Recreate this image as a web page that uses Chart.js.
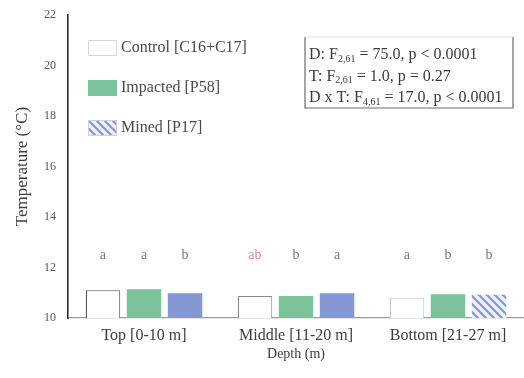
<!DOCTYPE html>
<html>
<head>
<meta charset="utf-8">
<script src="https://cdn.jsdelivr.net/npm/chart.js@4/dist/chart.umd.min.js"></script>
<style>
  html, body { margin: 0; padding: 0; background: #fff; }
  #wrap { width: 524px; height: 378px; }
</style>
</head>
<body>
<div id="wrap"><canvas id="c" width="524" height="378"></canvas></div>
<script>
// Depth zones and mean water temperature per treatment (°C)
const depthZones = ['Top [0-10 m]', 'Middle [11-20 m]', 'Bottom [21-27 m]'];
const seriesNames = ['Control [C16+C17]', 'Impacted [P58]', 'Mined [P17]'];
const controlTemp = [11.1, 10.87, 10.8];
const impactedTemp = [11.14, 10.87, 10.94];
const minedTemp = [10.98, 10.98, 10.92];
// Post-hoc grouping letters (per zone: control, impacted, mined)
const groupLetters = [['a', 'a', 'b'], ['ab', 'b', 'a'], ['a', 'b', 'b']];
const letterLevel = 12.5;
const yTicks = [10, 12, 14, 16, 18, 20, 22];
const statLines = [
  ['D: F', '2,61', ' = 75.0, p < 0.0001'],
  ['T: F', '2,61', ' = 1.0, p = 0.27'],
  ['D x T: F', '4,61', ' = 17.0, p < 0.0001']
];

const SERIF = '"Liberation Serif", "DejaVu Serif", serif';
const GREEN = 'rgb(124,194,154)';
const BLUE = 'rgb(132,150,212)';

function hatch(color, bg) {
  const c = document.createElement('canvas');
  c.width = 8; c.height = 8;
  const g = c.getContext('2d');
  g.fillStyle = bg; g.fillRect(0, 0, 8, 8);
  g.strokeStyle = color; g.lineWidth = 2.2;
  g.beginPath();
  g.moveTo(-2, -2); g.lineTo(10, 10);
  g.moveTo(-6, 2); g.lineTo(2, 10);
  g.moveTo(6, -2); g.lineTo(10, 2);
  g.stroke();
  return g.createPattern(c, 'repeat');
}
const ctxMain = document.getElementById('c').getContext('2d');
const minedHatch = hatch(BLUE, 'rgb(236,240,250)');

// Letters above each bar, legend and statistics box
const annotations = {
  id: 'annotations',
  afterDatasetsDraw(chart) {
    const g = chart.ctx;
    const y = chart.scales.y;
    g.save();
    g.font = '14px ' + SERIF;
    g.textAlign = 'center';
    g.textBaseline = 'middle';
    chart.data.datasets.forEach((ds, di) => {
      const meta = chart.getDatasetMeta(di);
      meta.data.forEach((bar, i) => {
        const t = groupLetters[i][di];
        g.fillStyle = (t === 'ab') ? '#d58a97' : '#7a7a7a';
        g.fillText(t, bar.x, y.getPixelForValue(letterLevel));
      });
    });

    // legend
    const swatches = [
      { fill: '#ffffff', stroke: '#d6d6d6' },
      { fill: GREEN, stroke: GREEN },
      { fill: minedHatch, stroke: 'rgb(200,208,236)' }
    ];
    const lx = 88, rows = [48, 88, 128];
    g.textAlign = 'left';
    g.font = '16px ' + SERIF;
    seriesNames.forEach((name, k) => {
      const sw = swatches[k];
      g.fillStyle = sw.fill;
      g.fillRect(lx, rows[k] - 8, 29, 16);
      g.strokeStyle = sw.stroke; g.lineWidth = 1;
      g.strokeRect(lx + 0.5, rows[k] - 7.5, 28, 15);
      g.fillStyle = '#4a4a4a';
      g.fillText(name, lx + 33, rows[k]);
    });

    // statistics box
    const bx = 305, by = 37, bw = 208, bh = 71;
    g.strokeStyle = '#6a6a6a'; g.lineWidth = 1.2;
    g.beginPath();
    g.moveTo(bx, by); g.lineTo(bx, by + bh); g.lineTo(bx + bw, by + bh); g.lineTo(bx + bw, by);
    g.stroke();
    g.strokeStyle = '#e2e2e2';
    g.beginPath(); g.moveTo(bx, by); g.lineTo(bx + bw, by); g.stroke();
    g.fillStyle = '#3a3a3a';
    statLines.forEach((ln, k) => {
      const ty = 55 + k * 21.5;
      let x = bx + 4;
      g.font = '16px ' + SERIF;
      g.fillText(ln[0], x, ty); x += g.measureText(ln[0]).width;
      g.font = '10px ' + SERIF;
      g.fillText(ln[1], x, ty + 4); x += g.measureText(ln[1]).width;
      g.font = '16px ' + SERIF;
      g.fillText(ln[2], x, ty);
    });
    g.restore();
  }
};

new Chart(ctxMain, {
  type: 'bar',
  data: {
    labels: depthZones,
    datasets: [
      { label: seriesNames[0], data: controlTemp, backgroundColor: '#ffffff',
        borderColor: ['#555555', '#8a8a8a', '#c8c8c8'],
        borderWidth: { left: 1.4, top: 1, right: 1, bottom: 0 }, borderSkipped: false },
      { label: seriesNames[1], data: impactedTemp, backgroundColor: GREEN, borderWidth: 0 },
      { label: seriesNames[2], data: minedTemp, backgroundColor: [BLUE, BLUE, minedHatch], borderWidth: 0 }
    ]
  },
  options: {
    responsive: false,
    animation: false,
    devicePixelRatio: 1,
    layout: { padding: { top: 11, right: 0, left: 0, bottom: 15 } },
    datasets: { bar: { categoryPercentage: 0.81, barPercentage: 0.84 } },
    plugins: { legend: { display: false }, tooltip: { enabled: false } },
    scales: {
      x: {
        grid: { display: false, drawTicks: false },
        border: { display: true, color: '#9a9a9a', width: 1.2 },
        ticks: { color: '#3c3c3c', font: { family: SERIF, size: 16 }, padding: 8 },
        title: { display: true, text: 'Depth (m)', color: '#3c3c3c', font: { family: SERIF, size: 14 }, padding: { top: 4, bottom: 0 } },
        afterFit(s) { s.height = 45; }
      },
      y: {
        min: 10, max: 22,
        afterBuildTicks(s) { s.ticks = yTicks.map(v => ({ value: v })); },
        grid: { display: false, drawTicks: true, tickLength: 4, tickColor: '#555' },
        border: { display: true, color: '#2a2a2a', width: 1.6 },
        ticks: { color: '#555555', font: { family: SERIF, size: 12 }, padding: 8 },
        title: { display: true, text: 'Temperature (°C)', color: '#3c3c3c', font: { family: SERIF, size: 17 }, padding: { top: 12, bottom: 6 } },
        afterFit(s) { s.width = 68; }
      }
    }
  },
  plugins: [annotations]
});
</script>
</body>
</html>
